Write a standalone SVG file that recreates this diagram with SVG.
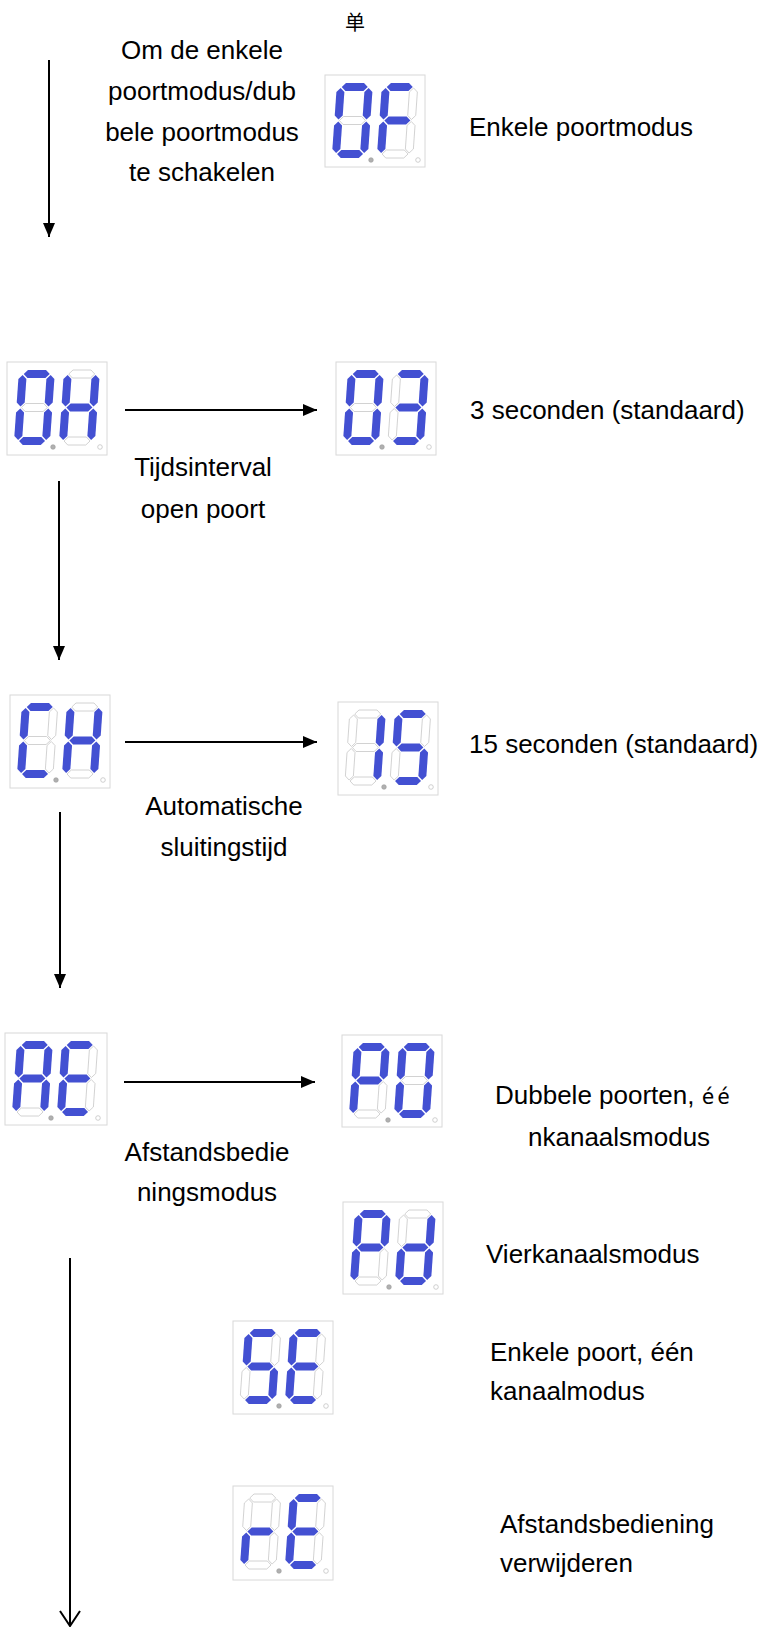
<svg xmlns="http://www.w3.org/2000/svg" xmlns:xlink="http://www.w3.org/1999/xlink" width="763" height="1627" viewBox="0 0 763 1627">
<style>
.box{fill:#fff;stroke:#d8d8d8;stroke-width:1}
.on{fill:#4350d2;stroke:none}
.off{fill:#fff;stroke:#c8c8c8;stroke-width:0.8}
.d1{fill:#b0b0b0;stroke:#999;stroke-width:0.6}
.d2{fill:#fff;stroke:#c4c4c4;stroke-width:0.8}
.t{font-family:"Liberation Sans",Arial,sans-serif;font-size:26px;fill:#000}
.c{text-anchor:middle}
.ln{stroke:#000;stroke-width:2;fill:none}
</style>
<defs>
<polygon id="sa" points="5,4 9,0 27,0 31,4 27,8 9,8"/>
<polygon id="sg" points="5,37.5 9,33.5 27,33.5 31,37.5 27,41.5 9,41.5"/>
<polygon id="sd" points="5,71 9,67 27,67 31,71 27,75 9,75"/>
<polygon id="sf" points="4,5 8,9 8,32.5 4,36.5 0,32.5 0,9"/>
<polygon id="se" points="4,38.5 8,42.5 8,66 4,70 0,66 0,42.5"/>
<polygon id="sb" points="32,5 36,9 36,32.5 32,36.5 28,32.5 28,9"/>
<polygon id="sc" points="32,38.5 36,42.5 36,66 32,70 28,66 28,42.5"/>
<marker id="ah" viewBox="0 0 14 12" refX="14" refY="6" markerWidth="14" markerHeight="12" markerUnits="userSpaceOnUse" orient="auto"><path d="M0,0 L14,6 L0,12 z" fill="#000"/></marker>
<marker id="av" viewBox="0 0 18 22" refX="16" refY="11" markerWidth="18" markerHeight="22" markerUnits="userSpaceOnUse" orient="auto"><path d="M1,1 L16,11 L1,21" fill="none" stroke="#000" stroke-width="2"/></marker>
</defs>

<!-- OF -->
<g id="disp-OF" transform="translate(325,75)">
<rect class="box" x="0" y="0" width="100" height="92"/>
<g transform="translate(12,8) skewX(-4)"><use href="#sa" class="on"/><use href="#sb" class="on"/><use href="#sc" class="on"/><use href="#sd" class="on"/><use href="#se" class="on"/><use href="#sf" class="on"/><use href="#sg" class="off"/></g>
<g transform="translate(57,8) skewX(-4)"><use href="#sa" class="on"/><use href="#sb" class="off"/><use href="#sc" class="off"/><use href="#sd" class="off"/><use href="#se" class="on"/><use href="#sf" class="on"/><use href="#sg" class="on"/></g>
<circle class="d1" cx="46" cy="85" r="2.3"/><circle class="d2" cx="93" cy="85" r="2.3"/>
</g>

<!-- OH -->
<g id="disp-OH" transform="translate(7,362)">
<rect class="box" x="0" y="0" width="100" height="93"/>
<g transform="translate(12,8) skewX(-4)"><use href="#sa" class="on"/><use href="#sb" class="on"/><use href="#sc" class="on"/><use href="#sd" class="on"/><use href="#se" class="on"/><use href="#sf" class="on"/><use href="#sg" class="off"/></g>
<g transform="translate(57,8) skewX(-4)"><use href="#sa" class="off"/><use href="#sb" class="on"/><use href="#sc" class="on"/><use href="#sd" class="off"/><use href="#se" class="on"/><use href="#sf" class="on"/><use href="#sg" class="on"/></g>
<circle class="d1" cx="46" cy="85" r="2.3"/><circle class="d2" cx="93" cy="85" r="2.3"/>
</g>

<!-- 03 -->
<g id="disp-03" transform="translate(336,362)">
<rect class="box" x="0" y="0" width="100" height="93"/>
<g transform="translate(12,8) skewX(-4)"><use href="#sa" class="on"/><use href="#sb" class="on"/><use href="#sc" class="on"/><use href="#sd" class="on"/><use href="#se" class="on"/><use href="#sf" class="on"/><use href="#sg" class="off"/></g>
<g transform="translate(57,8) skewX(-4)"><use href="#sa" class="on"/><use href="#sb" class="on"/><use href="#sc" class="on"/><use href="#sd" class="on"/><use href="#se" class="off"/><use href="#sf" class="off"/><use href="#sg" class="on"/></g>
<circle class="d1" cx="46" cy="85" r="2.3"/><circle class="d2" cx="93" cy="85" r="2.3"/>
</g>

<!-- CH -->
<g id="disp-CH" transform="translate(10,695)">
<rect class="box" x="0" y="0" width="100" height="93"/>
<g transform="translate(12,8) skewX(-4)"><use href="#sa" class="on"/><use href="#sb" class="off"/><use href="#sc" class="off"/><use href="#sd" class="on"/><use href="#se" class="on"/><use href="#sf" class="on"/><use href="#sg" class="off"/></g>
<g transform="translate(57,8) skewX(-4)"><use href="#sa" class="off"/><use href="#sb" class="on"/><use href="#sc" class="on"/><use href="#sd" class="off"/><use href="#se" class="on"/><use href="#sf" class="on"/><use href="#sg" class="on"/></g>
<circle class="d1" cx="46" cy="85" r="2.3"/><circle class="d2" cx="93" cy="85" r="2.3"/>
</g>

<!-- 15 -->
<g id="disp-15" transform="translate(338,702)">
<rect class="box" x="0" y="0" width="100" height="93"/>
<g transform="translate(12,8) skewX(-4)"><use href="#sa" class="off"/><use href="#sb" class="on"/><use href="#sc" class="on"/><use href="#sd" class="off"/><use href="#se" class="off"/><use href="#sf" class="off"/><use href="#sg" class="off"/></g>
<g transform="translate(57,8) skewX(-4)"><use href="#sa" class="on"/><use href="#sb" class="off"/><use href="#sc" class="on"/><use href="#sd" class="on"/><use href="#se" class="off"/><use href="#sf" class="on"/><use href="#sg" class="on"/></g>
<circle class="d1" cx="46" cy="85" r="2.3"/><circle class="d2" cx="93" cy="85" r="2.3"/>
</g>

<!-- AE -->
<g id="disp-AE" transform="translate(5,1033)">
<rect class="box" x="0" y="0" width="102" height="92"/>
<g transform="translate(12,8) skewX(-4)"><use href="#sa" class="on"/><use href="#sb" class="on"/><use href="#sc" class="on"/><use href="#sd" class="off"/><use href="#se" class="on"/><use href="#sf" class="on"/><use href="#sg" class="on"/></g>
<g transform="translate(57,8) skewX(-4)"><use href="#sa" class="on"/><use href="#sb" class="off"/><use href="#sc" class="off"/><use href="#sd" class="on"/><use href="#se" class="on"/><use href="#sf" class="on"/><use href="#sg" class="on"/></g>
<circle class="d1" cx="46" cy="85" r="2.3"/><circle class="d2" cx="93" cy="85" r="2.3"/>
</g>

<!-- P0 -->
<g id="disp-P0" transform="translate(342,1035)">
<rect class="box" x="0" y="0" width="100" height="92"/>
<g transform="translate(12,8) skewX(-4)"><use href="#sa" class="on"/><use href="#sb" class="on"/><use href="#sc" class="off"/><use href="#sd" class="off"/><use href="#se" class="on"/><use href="#sf" class="on"/><use href="#sg" class="on"/></g>
<g transform="translate(57,8) skewX(-4)"><use href="#sa" class="on"/><use href="#sb" class="on"/><use href="#sc" class="on"/><use href="#sd" class="on"/><use href="#se" class="on"/><use href="#sf" class="on"/><use href="#sg" class="off"/></g>
<circle class="d1" cx="46" cy="85" r="2.3"/><circle class="d2" cx="93" cy="85" r="2.3"/>
</g>

<!-- Pd -->
<g id="disp-Pd" transform="translate(343,1202)">
<rect class="box" x="0" y="0" width="100" height="92"/>
<g transform="translate(12,8) skewX(-4)"><use href="#sa" class="on"/><use href="#sb" class="on"/><use href="#sc" class="off"/><use href="#sd" class="off"/><use href="#se" class="on"/><use href="#sf" class="on"/><use href="#sg" class="on"/></g>
<g transform="translate(57,8) skewX(-4)"><use href="#sa" class="off"/><use href="#sb" class="on"/><use href="#sc" class="on"/><use href="#sd" class="on"/><use href="#se" class="on"/><use href="#sf" class="off"/><use href="#sg" class="on"/></g>
<circle class="d1" cx="46" cy="85" r="2.3"/><circle class="d2" cx="93" cy="85" r="2.3"/>
</g>

<!-- SE -->
<g id="disp-SE" transform="translate(233,1321)">
<rect class="box" x="0" y="0" width="100" height="93"/>
<g transform="translate(12,8) skewX(-4)"><use href="#sa" class="on"/><use href="#sb" class="off"/><use href="#sc" class="on"/><use href="#sd" class="on"/><use href="#se" class="off"/><use href="#sf" class="on"/><use href="#sg" class="on"/></g>
<g transform="translate(57,8) skewX(-4)"><use href="#sa" class="on"/><use href="#sb" class="off"/><use href="#sc" class="off"/><use href="#sd" class="on"/><use href="#se" class="on"/><use href="#sf" class="on"/><use href="#sg" class="on"/></g>
<circle class="d1" cx="46" cy="85" r="2.3"/><circle class="d2" cx="93" cy="85" r="2.3"/>
</g>

<!-- rE -->
<g id="disp-rE" transform="translate(233,1486)">
<rect class="box" x="0" y="0" width="100" height="94"/>
<g transform="translate(12,8) skewX(-4)"><use href="#sa" class="off"/><use href="#sb" class="off"/><use href="#sc" class="off"/><use href="#sd" class="off"/><use href="#se" class="on"/><use href="#sf" class="off"/><use href="#sg" class="on"/></g>
<g transform="translate(57,8) skewX(-4)"><use href="#sa" class="on"/><use href="#sb" class="off"/><use href="#sc" class="off"/><use href="#sd" class="on"/><use href="#se" class="on"/><use href="#sf" class="on"/><use href="#sg" class="on"/></g>
<circle class="d1" cx="46" cy="85" r="2.3"/><circle class="d2" cx="93" cy="85" r="2.3"/>
</g>

<g id="connectors">
<line class="ln" x1="49" y1="60" x2="49" y2="237" marker-end="url(#ah)"/>
<line class="ln" x1="125" y1="410" x2="317" y2="410" marker-end="url(#ah)"/>
<line class="ln" x1="59" y1="481" x2="59" y2="660" marker-end="url(#ah)"/>
<line class="ln" x1="125" y1="742" x2="317" y2="742" marker-end="url(#ah)"/>
<line class="ln" x1="60" y1="812" x2="60" y2="988" marker-end="url(#ah)"/>
<line class="ln" x1="124" y1="1082" x2="315" y2="1082" marker-end="url(#ah)"/>
<line class="ln" x1="70" y1="1258" x2="70" y2="1626" marker-end="url(#av)"/>
</g>

<g id="labels">
<text x="345" y="30" style="font-family:'Noto Sans CJK SC',sans-serif;font-size:20px">单</text>
<text class="t c" x="202" y="59">Om de enkele</text>
<text class="t c" x="202" y="100">poortmodus/dub</text>
<text class="t c" x="202" y="141">bele poortmodus</text>
<text class="t c" x="202" y="181">te schakelen</text>
<text class="t" x="469" y="136">Enkele poortmodus</text>
<text class="t" x="470" y="419">3 seconden (standaard)</text>
<text class="t c" x="203" y="476">Tijdsinterval</text>
<text class="t c" x="203" y="518">open poort</text>
<text class="t" x="469" y="753">15 seconden (standaard)</text>
<text class="t c" x="224" y="815">Automatische</text>
<text class="t c" x="224" y="856">sluitingstijd</text>
<text class="t" x="495" y="1104">Dubbele poorten, <tspan style="font-family:'DejaVu Sans Mono',monospace;font-size:21px;letter-spacing:3px">éé</tspan></text>
<text class="t" x="528" y="1146">nkanaalsmodus</text>
<text class="t c" x="207" y="1161">Afstandsbedie</text>
<text class="t c" x="207" y="1201">ningsmodus</text>
<text class="t" x="486" y="1263">Vierkanaalsmodus</text>
<text class="t" x="490" y="1361">Enkele poort, één</text>
<text class="t" x="490" y="1400">kanaalmodus</text>
<text class="t" x="500" y="1533">Afstandsbediening</text>
<text class="t" x="500" y="1572">verwijderen</text>
</g>
</svg>
